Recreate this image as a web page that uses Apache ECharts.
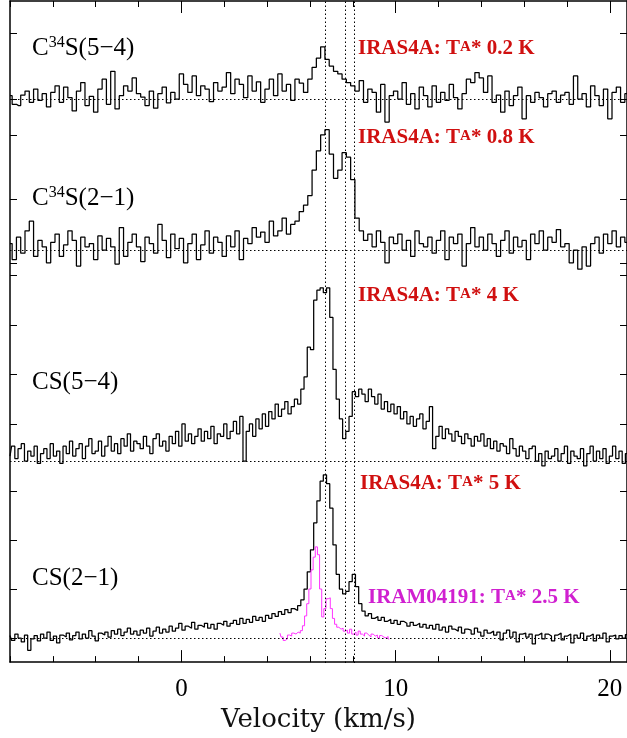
<!DOCTYPE html>
<html><head><meta charset="utf-8">
<script src="https://cdn.jsdelivr.net/npm/echarts@6/dist/echarts.min.js"></script>
<style>html,body{margin:0;padding:0;background:#fff}#c{width:627px;height:738px}</style>
</head><body><div id="c"></div>
<script>
// ---------- data ----------
const V_MIN = -8, V_MAX = 20.8;
const xMajorTicks = [0, 10, 20];
const refVelocities = [6.73, 7.66, 8.07];

// C34S(5-4): channels from -8 km/s, 0.2 km/s wide
const c34s54_v0 = -8, c34s54_dv = 0.2;
const c34s54 = [
 0.05,-0.08,-0.1,0.06,0.12,-0.05,0.15,-0.02,0.08,-0.12,
 0.1,0.2,-0.05,0.18,0.02,-0.18,0.12,0.25,-0.1,0.04,
 -0.2,0.15,0.3,-0.08,0.42,-0.15,0.05,0.2,0.12,0.32,
 0.08,0.03,-0.1,0.12,-0.14,0.08,0.18,-0.06,0.1,0.0,
 0.38,0.22,0.1,0.35,0.05,0.2,0.15,-0.04,0.25,0.12,
 0.18,0.4,0.08,0.3,0.22,0.02,0.35,0.12,0.26,-0.05,
 0.15,0.3,0.05,0.38,0.12,0.22,-0.02,0.3,0.24,0.1,
 0.3,0.48,0.62,0.79,0.6,0.5,0.42,0.38,0.3,0.25,
 0.2,0.12,0.28,-0.05,0.15,0.1,-0.2,0.22,-0.35,0.05,
 0.12,0.0,0.25,-0.08,0.08,-0.15,0.18,0.05,-0.12,0.2,
 -0.05,0.1,-0.02,0.22,0.02,-0.15,0.08,0.3,0.25,0.4,
 0.32,0.1,0.35,-0.05,0.06,-0.2,0.12,-0.1,0.05,0.18,
 -0.3,0.05,-0.05,0.1,0.02,-0.12,0.08,0.12,-0.05,0.06,
 0.1,-0.08,0.35,0.0,0.08,-0.12,0.2,0.05,-0.1,0.15,
 -0.3,0.1,0.18,-0.05,0.08
];
const c34s54Ticks = [0, 1];

// C34S(2-1)
const c34s21_v0 = -8, c34s21_dv = 0.2;
const c34s21 = [
 0.1,-0.15,0.2,-0.05,0.3,0.45,-0.1,0.15,0.05,-0.2,
 0.12,0.25,-0.1,0.08,0.3,0.15,-0.25,0.2,0.05,0.1,
 -0.15,0.22,0.0,0.18,0.05,-0.22,0.35,-0.1,0.12,0.25,
 0.05,-0.18,0.2,0.1,-0.05,0.4,0.15,-0.12,0.25,0.02,
 0.18,-0.2,0.1,0.25,-0.15,0.08,0.3,-0.05,0.2,0.12,
 -0.1,0.22,0.05,0.3,-0.15,0.18,0.1,0.35,0.2,0.28,
 0.12,0.45,0.22,0.3,0.5,0.25,0.4,0.45,0.6,0.7,
 0.85,1.25,1.55,1.8,1.88,1.5,1.12,1.25,1.52,1.45,
 1.1,0.5,0.3,0.15,0.25,0.05,0.3,0.12,-0.2,0.2,
 0.1,0.25,0.0,0.15,-0.1,0.3,0.1,0.05,0.2,-0.05,
 0.15,0.3,-0.15,0.2,0.1,0.25,-0.25,0.1,0.35,0.05,
 0.2,0.0,0.25,0.1,-0.1,0.15,0.3,-0.05,0.2,0.05,
 0.15,-0.15,0.25,0.1,0.3,0.0,0.2,0.12,0.32,0.05,
 0.1,-0.2,0.0,-0.3,0.05,-0.25,0.1,0.2,-0.05,0.25,
 0.1,0.3,0.05,0.2,0.12
];
const c34s21Ticks = [-0.2, 0.8, 1.8];

// CS(5-4)
const cs54_v0 = -8, cs54_dv = 0.15;
const cs54 = [
 0.1,0.3,0.05,0.25,0.35,0.0,0.2,0.1,0.3,-0.05,
 0.15,0.25,0.05,0.35,0.1,0.2,-0.05,0.3,0.15,0.4,
 0.1,0.25,0.35,0.05,0.3,0.45,0.15,0.2,0.4,0.1,
 0.3,0.5,0.2,0.35,0.15,0.45,0.3,0.55,0.2,0.4,
 0.35,0.25,0.5,0.3,0.15,0.45,0.55,0.3,0.4,0.2,
 0.5,0.35,0.6,0.3,0.75,0.4,0.55,0.35,0.5,0.65,
 0.4,0.6,0.45,0.7,0.35,0.55,0.5,0.75,0.45,0.6,
 0.8,0.55,0.9,0.0,0.6,0.75,0.5,0.85,0.65,0.95,
 0.7,1.0,0.85,1.15,0.9,1.05,1.2,0.95,1.1,1.25,
 1.15,1.45,1.7,2.3,2.25,3.25,3.45,3.5,3.4,3.5,
 2.9,1.85,1.25,0.85,0.45,0.6,0.9,1.4,1.3,1.45,
 1.35,1.2,1.45,1.3,1.15,1.35,1.05,1.2,1.0,1.15,
 0.95,1.1,0.85,1.0,0.75,0.9,0.7,0.85,0.95,0.65,
 0.8,1.1,0.25,0.5,0.7,0.45,0.65,0.55,0.4,0.6,
 0.5,0.35,0.55,0.45,0.3,0.5,0.4,0.55,0.3,0.45,
 0.25,0.4,0.2,0.35,0.3,0.15,0.45,0.25,0.1,0.3,
 0.2,0.05,0.25,0.3,0.0,0.15,-0.1,0.2,0.05,0.1,
 0.25,0.0,0.15,0.3,-0.05,0.2,0.1,0.05,0.25,-0.1,
 0.15,0.3,0.0,0.2,0.05,0.25,-0.05,0.1,0.3,0.05,
 0.2,-0.05,0.15
];
const cs54Ticks = [0.75, 1.75, 2.75, 3.75];

// CS(2-1) IRAS4A
const cs21_v0 = -8, cs21_dv = 0.15;
const cs21 = [
 0.05,-0.05,0.08,0.0,-0.08,0.06,-0.25,-0.02,0.05,-0.06,
 0.08,0.0,0.12,-0.05,0.04,-0.1,0.06,0.02,0.1,-0.04,
 0.05,0.12,-0.02,0.08,0.0,0.15,0.04,-0.06,0.1,0.06,
 0.12,0.02,0.15,0.08,0.18,0.05,0.12,0.2,0.08,0.14,
 0.06,0.16,0.1,0.2,0.04,0.14,0.22,0.1,0.18,0.12,
 0.24,0.14,0.2,0.3,0.16,0.24,0.2,0.32,0.18,0.26,
 0.22,0.3,0.2,0.28,0.18,0.3,0.26,0.34,0.24,0.3,
 0.36,0.28,0.4,0.3,0.38,0.32,0.44,0.36,0.42,0.34,
 0.46,0.4,0.5,0.44,0.54,0.48,0.58,0.52,0.6,0.56,
 0.66,0.78,1.0,1.35,1.8,2.35,2.8,3.2,3.33,3.15,
 2.65,1.9,1.3,1.0,0.9,0.95,1.15,1.3,1.05,0.7,
 0.55,0.45,0.5,0.4,0.44,0.36,0.42,0.34,0.38,0.3,
 0.36,0.28,0.34,0.3,0.24,0.32,0.26,0.3,0.22,0.28,
 0.2,0.26,0.18,0.28,0.16,0.22,0.12,0.24,0.18,0.14,
 0.22,0.1,0.18,0.16,0.08,0.2,0.12,0.04,0.16,0.1,
 0.14,0.06,0.12,-0.04,0.1,0.16,0.02,0.12,-0.08,0.08,
 0.1,0.02,0.08,-0.12,0.06,0.1,-0.02,0.08,0.04,-0.06,
 0.06,0.1,-0.04,0.04,0.08,-0.1,0.06,0.0,0.1,-0.05,
 0.04,0.08,-0.06,0.06,0.0,0.1,-0.08,0.04,0.06,-0.02,
 0.05,0.0,0.07
];
const cs21Ticks = [0, 1, 2, 3];

// CS(2-1) IRAM04191 (magenta)
const iram_v0 = 4.6, iram_dv = 0.1;
const iram = [
 0.1,0.02,-0.05,-0.02,0.06,0.04,0.1,0.08,0.12,0.1,
 0.15,0.25,0.45,0.7,1.0,1.39,1.65,1.86,1.7,1.0,
 0.43,0.6,0.8,0.82,0.6,0.4,0.28,0.22,0.18,0.2,
 0.14,0.16,0.1,0.18,0.08,0.12,0.06,0.14,0.08,0.04,
 0.1,0.06,0.02,0.08,0.04,0.06,0.0,0.05,0.02,0.0,
 0.03,-0.02
];

const lineNames = ['C34S(5-4)', 'C34S(2-1)', 'CS(5-4)', 'CS(2-1)'];

// ---------- layout ----------
const G = {left: 10, top: 1, width: 621, height: 662};
const GB = G.top + G.height;
const panels = [
  {data: c34s54, v0: c34s54_v0, dv: c34s54_dv, ticks: c34s54Ticks, yb: 99, s: 66},
  {data: c34s21, v0: c34s21_v0, dv: c34s21_dv, ticks: c34s21Ticks, yb: 250, s: 64},
  {data: cs54, v0: cs54_v0, dv: cs54_dv, ticks: cs54Ticks, yb: 461, s: 49.5},
  {data: cs21, v0: cs21_v0, dv: cs21_dv, ticks: cs21Ticks, yb: 638, s: 49}
];
const toXY = (arr, v0, dv) => arr.map((t, i) => [+(v0 + i * dv).toFixed(3), t]);

const serif = 'Liberation Serif';
const wideSerif = 'DejaVu Serif';
const grids = [], xAxes = [], yAxes = [], series = [];
for (let i = 0; i < 5; i++) grids.push(Object.assign({}, G));

const hidden = {show: false};
// frame axes (grid 0)
const baseX = {gridIndex: 0, type: 'value', min: V_MIN, max: V_MAX, splitLine: hidden};
xAxes.push(Object.assign({}, baseX, {position: 'bottom', interval: 2,
  axisLine: {show: true, onZero: false, lineStyle: {color: '#000', width: 1.5}},
  axisTick: {inside: true, length: 6, lineStyle: {color: '#000', width: 1}}, axisLabel: hidden}));
xAxes.push(Object.assign({}, baseX, {position: 'bottom',
  axisLine: {show: false, onZero: false},
  axisTick: {inside: true, length: 12, customValues: xMajorTicks, lineStyle: {color: '#000', width: 1}},
  axisLabel: {show: true, customValues: xMajorTicks, fontFamily: serif, fontSize: 25, color: '#000', margin: 15},
  name: 'Velocity (km/s)', nameLocation: 'middle', nameGap: 41,
  nameTextStyle: {fontFamily: wideSerif, fontSize: 26, color: '#111'}}));
xAxes.push(Object.assign({}, baseX, {position: 'top', interval: 2,
  axisLine: {show: true, onZero: false, lineStyle: {color: '#000', width: 1.5}},
  axisTick: {inside: true, length: 6, lineStyle: {color: '#000', width: 1}}, axisLabel: hidden}));
xAxes.push(Object.assign({}, baseX, {position: 'top',
  axisLine: {show: false, onZero: false},
  axisTick: {inside: true, length: 12, customValues: xMajorTicks, lineStyle: {color: '#000', width: 1}},
  axisLabel: hidden}));
yAxes.push({gridIndex: 0, type: 'value', min: 0, max: 1, position: 'left',
  axisLine: {show: true, onZero: false, lineStyle: {color: '#000', width: 1.5}}, axisTick: hidden, axisLabel: hidden, splitLine: hidden});
yAxes.push({gridIndex: 0, type: 'value', min: 0, max: 1, position: 'right',
  axisLine: {show: true, onZero: false, lineStyle: {color: '#000', width: 1.5}}, axisTick: hidden, axisLabel: hidden, splitLine: hidden});

panels.forEach((p, k) => {
  const gi = k + 1;
  const ymin = -(GB - p.yb) / p.s;
  const ymax = ymin + G.height / p.s;
  xAxes.push({gridIndex: gi, type: 'value', min: V_MIN, max: V_MAX, show: false});
  ['left', 'right'].forEach(pos => yAxes.push({gridIndex: gi, type: 'value', min: ymin, max: ymax, position: pos,
    axisLine: {show: false, onZero: false}, splitLine: hidden, axisLabel: hidden,
    axisTick: {show: true, inside: true, length: 7, customValues: p.ticks, lineStyle: {color: '#000', width: 1}}}));
  const mlData = [{yAxis: 0}];
  if (k === 3) refVelocities.forEach(v => mlData.push({xAxis: v}));
  series.push({type: 'line', name: lineNames[k], xAxisIndex: 4 + k, yAxisIndex: 2 + 2 * k,
    data: toXY(p.data, p.v0, p.dv), step: 'middle', showSymbol: false, symbol: 'none',
    lineStyle: {color: '#000', width: 1.25}, clip: false, animation: false, silent: true,
    markLine: {silent: true, symbol: 'none', label: hidden, animation: false,
      lineStyle: {color: '#000', type: [1.5, 2.5], width: 1}, data: mlData}});
});
series.push({type: 'line', name: 'IRAM04191 CS(2-1)', xAxisIndex: 7, yAxisIndex: 8,
  data: toXY(iram, iram_v0, iram_dv), step: 'middle', showSymbol: false, symbol: 'none',
  lineStyle: {color: '#ff33ff', width: 1}, clip: false, animation: false, silent: true});

// ---------- text ----------
const blackRich = {a: {fontFamily: serif, fontSize: 25, lineHeight: 27, fill: '#000', color: '#000'},
                   sup: {fontFamily: serif, fontSize: 16, lineHeight: 16, verticalAlign: 'top', fill: '#000', color: '#000'}};
function tagLabel(txt, x, y) {
  return {type: 'text', x: x, y: y, silent: true,
    style: {text: txt, rich: blackRich, verticalAlign: 'middle', align: 'left'}};
}
function redLabel(pre, post, x, y, col) {
  const r = {b: {fontFamily: serif, fontSize: 21, fontWeight: 'bold', lineHeight: 23, fill: col, color: col},
             s: {fontFamily: serif, fontSize: 15, fontWeight: 'bold', lineHeight: 15, verticalAlign: 'middle', padding: [0, 0, 3, 0], fill: col, color: col}};
  return {type: 'text', x: x, y: y, silent: true,
    style: {text: '{b|' + pre + 'T}{s|A}{b|' + post + '}', rich: r, verticalAlign: 'middle', align: 'left'}};
}
const RED = '#d01010', MAG = '#d020d0';
const graphics = [
  tagLabel('{a|C}{sup|34}{a|S(5−4)}', 32, 48),
  tagLabel('{a|C}{sup|34}{a|S(2−1)}', 32, 198),
  tagLabel('{a|CS(5−4)}', 32, 382),
  tagLabel('{a|CS(2−1)}', 32, 578),
  redLabel('IRAS4A: ', '* 0.2 K', 358, 49, RED),
  redLabel('IRAS4A: ', '* 0.8 K', 358, 138, RED),
  redLabel('IRAS4A: ', '* 4 K', 358, 296, RED),
  redLabel('IRAS4A: ', '* 5 K', 360, 484, RED),
  redLabel('IRAM04191: ', '* 2.5 K', 368, 598, MAG)
];

const chart = echarts.init(document.getElementById('c'), null, {renderer: 'canvas'});
chart.setOption({
  animation: false, backgroundColor: '#fff',
  grid: grids, xAxis: xAxes, yAxis: yAxes, series: series, graphic: graphics
});
</script></body></html>
